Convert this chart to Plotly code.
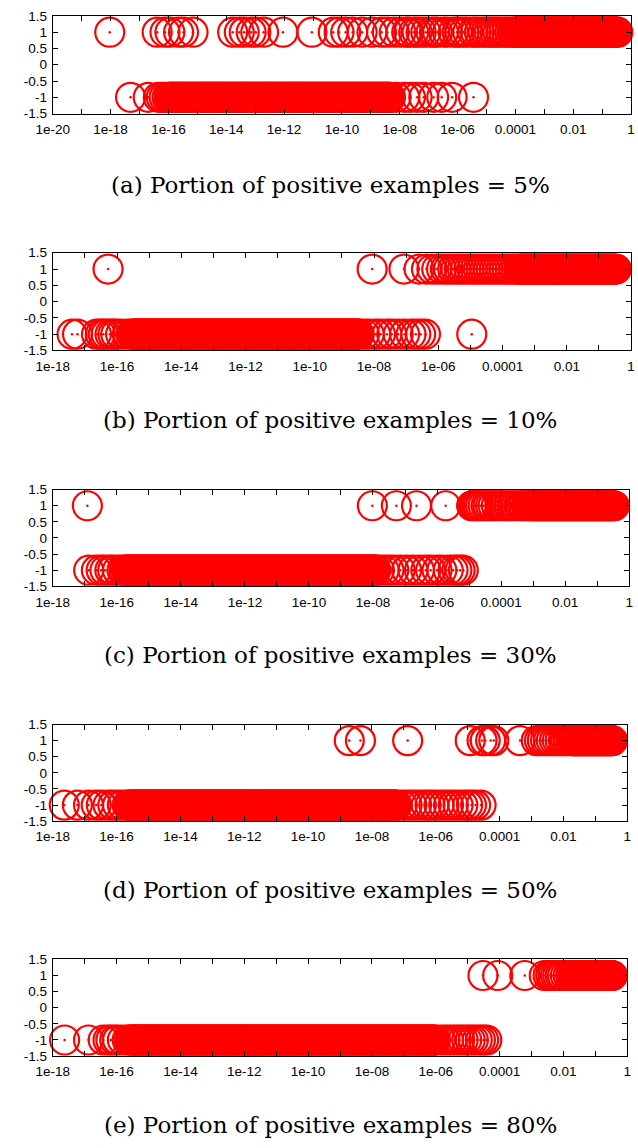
import numpy as np
import plotly.graph_objects as go

# ---------------- data (log10 of the x value; y = +1 / -1 class) ----------------
a_pos_log = [-18.03, -16.39, -16.12, -15.95, -15.65, -15.48, -15.15, -13.78, -13.55, -13.38, -13.14,
             -12.98, -12.71, -12.04, -11.04, -10.30, -10.10, -9.87, -9.63, -9.30, -8.96, -8.63, -8.43,
             -8.19, -7.96, -7.76, -7.69, -7.52, -7.40, -7.26, -7.10, -6.92, -6.80, -6.69, -6.49, -6.35,
             -6.15, -6.02, -5.92, -5.78, -5.65, -5.48, -5.38, -5.25, -5.12, -5.00, -4.90, -4.80, -4.70,
             -4.60, -4.50, -4.40, -4.30, -4.20, -4.10, -4.03,
             -3.98, -3.94, -3.91, -3.87, -3.84, -3.80, -3.77, -3.73, -3.70, -3.66, -3.63, -3.60, -3.56, -3.53, -3.49, -3.46, -3.42, -3.39, -3.35, -3.32, -3.29, -3.25, -3.22, -3.18, -3.15, -3.11, -3.08, -3.04, -3.01,
             -2.98, -2.94, -2.91, -2.87, -2.84, -2.80, -2.77, -2.73, -2.70, -2.66, -2.63, -2.60, -2.56, -2.53, -2.49, -2.46, -2.42, -2.39, -2.35, -2.32, -2.29, -2.25, -2.22, -2.18, -2.15, -2.11, -2.08, -2.04, -2.01,
             -1.98, -1.94, -1.91, -1.87, -1.84, -1.80, -1.77, -1.73, -1.70, -1.66, -1.63, -1.60, -1.56, -1.53, -1.49, -1.46, -1.42, -1.39, -1.35, -1.32, -1.29, -1.25, -1.22, -1.18, -1.15, -1.11, -1.08, -1.04, -1.01,
             -0.98, -0.94, -0.91, -0.87, -0.84, -0.80, -0.77, -0.73, -0.70, -0.66, -0.63, -0.60, -0.56, -0.53, -0.49, -0.46]
a_neg_log = [-17.31, -16.70, -16.35, -16.25, -16.15, -16.05,
             -15.98, -15.94, -15.91, -15.87, -15.84, -15.80, -15.77, -15.73, -15.70, -15.66, -15.63, -15.60, -15.56, -15.53, -15.49, -15.46, -15.42, -15.39, -15.35, -15.32, -15.29, -15.25, -15.22, -15.18, -15.15, -15.11, -15.08, -15.04, -15.01,
             -14.98, -14.94, -14.91, -14.87, -14.84, -14.80, -14.77, -14.73, -14.70, -14.66, -14.63, -14.60, -14.56, -14.53, -14.49, -14.46, -14.42, -14.39, -14.35, -14.32, -14.29, -14.25, -14.22, -14.18, -14.15, -14.11, -14.08, -14.04, -14.01,
             -13.98, -13.94, -13.91, -13.87, -13.84, -13.80, -13.77, -13.73, -13.70, -13.66, -13.63, -13.60, -13.56, -13.53, -13.49, -13.46, -13.42, -13.39, -13.35, -13.32, -13.29, -13.25, -13.22, -13.18, -13.15, -13.11, -13.08, -13.04, -13.01,
             -12.98, -12.94, -12.91, -12.87, -12.84, -12.80, -12.77, -12.73, -12.70, -12.66, -12.63, -12.60, -12.56, -12.53, -12.49, -12.46, -12.42, -12.39, -12.35, -12.32, -12.29, -12.25, -12.22, -12.18, -12.15, -12.11, -12.08, -12.04, -12.01,
             -11.98, -11.94, -11.91, -11.87, -11.84, -11.80, -11.77, -11.73, -11.70, -11.66, -11.63, -11.60, -11.56, -11.53, -11.49, -11.46, -11.42, -11.39, -11.35, -11.32, -11.29, -11.25, -11.22, -11.18, -11.15, -11.11, -11.08, -11.04, -11.01,
             -10.98, -10.94, -10.91, -10.87, -10.84, -10.80, -10.77, -10.73, -10.70, -10.66, -10.63, -10.60, -10.56, -10.53, -10.49, -10.46, -10.42, -10.39, -10.35, -10.32, -10.29, -10.25, -10.22, -10.18, -10.15, -10.11, -10.08, -10.04, -10.01,
             -9.98, -9.94, -9.91, -9.87, -9.84, -9.80, -9.77, -9.73, -9.70, -9.66, -9.63, -9.60, -9.56, -9.53, -9.49, -9.46, -9.42, -9.39, -9.35, -9.32, -9.29, -9.25, -9.22, -9.18, -9.15, -9.11, -9.08, -9.04, -9.01,
             -8.98, -8.94, -8.91, -8.87, -8.84, -8.80, -8.77, -8.73, -8.70, -8.66, -8.63, -8.60, -8.56, -8.53, -8.49, -8.46, -8.42, -8.39, -8.35, -8.32,
             -8.13, -7.83, -7.63, -7.40, -7.17, -6.83, -6.55, -6.19, -5.45]

b_pos_log = [-16.28, -8.06, -7.07, -6.60, -6.37, -6.20, -6.05, -5.90, -5.78, -5.68, -5.55, -5.45,
             -5.35, -5.25, -5.15, -5.05, -4.95, -4.85, -4.75, -4.65, -4.55, -4.45, -4.35, -4.25,
             -4.15, -4.05, -3.95, -3.85, -3.75, -3.65, -3.57,
             -3.49, -3.46, -3.42, -3.39, -3.35, -3.32, -3.29, -3.25, -3.22, -3.18, -3.15, -3.11, -3.08, -3.04, -3.01,
             -2.98, -2.94, -2.91, -2.87, -2.84, -2.80, -2.77, -2.73, -2.70, -2.66, -2.63, -2.60, -2.56, -2.53, -2.49, -2.46, -2.42, -2.39, -2.35, -2.32, -2.29, -2.25, -2.22, -2.18, -2.15, -2.11, -2.08, -2.04, -2.01,
             -1.98, -1.94, -1.91, -1.87, -1.84, -1.80, -1.77, -1.73, -1.70, -1.66, -1.63, -1.60, -1.56, -1.53, -1.49, -1.46, -1.42, -1.39, -1.35, -1.32, -1.29, -1.25, -1.22, -1.18, -1.15, -1.11, -1.08, -1.04, -1.01,
             -0.98, -0.94, -0.91, -0.87, -0.84, -0.80, -0.77, -0.73, -0.70, -0.66, -0.63, -0.60, -0.56, -0.53, -0.49, -0.46]
b_neg_log = [-17.40, -17.23, -16.64, -16.52, -16.43, -16.34, -16.22, -16.13, -16.04, -15.89, -15.68, -15.55,
             -15.49, -15.46, -15.42, -15.39, -15.35, -15.32, -15.29, -15.25, -15.22, -15.18, -15.15, -15.11, -15.08, -15.04, -15.01,
             -14.98, -14.94, -14.91, -14.87, -14.84, -14.80, -14.77, -14.73, -14.70, -14.66, -14.63, -14.60, -14.56, -14.53, -14.49, -14.46, -14.42, -14.39, -14.35, -14.32, -14.29, -14.25, -14.22, -14.18, -14.15, -14.11, -14.08, -14.04, -14.01,
             -13.98, -13.94, -13.91, -13.87, -13.84, -13.80, -13.77, -13.73, -13.70, -13.66, -13.63, -13.60, -13.56, -13.53, -13.49, -13.46, -13.42, -13.39, -13.35, -13.32, -13.29, -13.25, -13.22, -13.18, -13.15, -13.11, -13.08, -13.04, -13.01,
             -12.98, -12.94, -12.91, -12.87, -12.84, -12.80, -12.77, -12.73, -12.70, -12.66, -12.63, -12.60, -12.56, -12.53, -12.49, -12.46, -12.42, -12.39, -12.35, -12.32, -12.29, -12.25, -12.22, -12.18, -12.15, -12.11, -12.08, -12.04, -12.01,
             -11.98, -11.94, -11.91, -11.87, -11.84, -11.80, -11.77, -11.73, -11.70, -11.66, -11.63, -11.60, -11.56, -11.53, -11.49, -11.46, -11.42, -11.39, -11.35, -11.32, -11.29, -11.25, -11.22, -11.18, -11.15, -11.11, -11.08, -11.04, -11.01,
             -10.98, -10.94, -10.91, -10.87, -10.84, -10.80, -10.77, -10.73, -10.70, -10.66, -10.63, -10.60, -10.56, -10.53, -10.49, -10.46, -10.42, -10.39, -10.35, -10.32, -10.29, -10.25, -10.22, -10.18, -10.15, -10.11, -10.08, -10.04, -10.01,
             -9.98, -9.94, -9.91, -9.87, -9.84, -9.80, -9.77, -9.73, -9.70, -9.66, -9.63, -9.60, -9.56, -9.53, -9.49, -9.46, -9.42, -9.39, -9.35, -9.32, -9.29, -9.25, -9.22, -9.18, -9.15, -9.11, -9.08, -9.04, -9.01,
             -8.98, -8.94, -8.91, -8.87, -8.84, -8.80, -8.77, -8.73, -8.70, -8.66, -8.63, -8.60, -8.56, -8.53, -8.49, -8.46,
             -8.30, -8.15, -7.95, -7.80, -7.60, -7.45, -7.25, -7.05, -6.85, -6.70, -6.55, -6.40, -4.96]

c_pos_log = [-16.92, -8.02, -7.27, -6.64, -5.73,
             -4.92, -4.86, -4.81, -4.76, -4.71, -4.64, -4.56, -4.47, -4.41, -4.33, -4.25, -4.15, -4.04,
             -3.95, -3.86, -3.75, -3.65, -3.55, -3.44, -3.36, -3.29, -3.21, -3.14, -3.08, -3.04, -3.01,
             -2.98, -2.94, -2.91, -2.87, -2.84, -2.80, -2.77, -2.73, -2.70, -2.66, -2.63, -2.60, -2.56, -2.53, -2.49, -2.46, -2.42, -2.39, -2.35, -2.32, -2.29, -2.25, -2.22, -2.18, -2.15, -2.11, -2.08, -2.04, -2.01,
             -1.98, -1.94, -1.91, -1.87, -1.84, -1.80, -1.77, -1.73, -1.70, -1.66, -1.63, -1.60, -1.56, -1.53, -1.49, -1.46, -1.42, -1.39, -1.35, -1.32, -1.29, -1.25, -1.22, -1.18, -1.15, -1.11, -1.08, -1.04, -1.01,
             -0.98, -0.94, -0.91, -0.87, -0.84, -0.80, -0.77, -0.73, -0.70, -0.66, -0.63, -0.60, -0.56, -0.53, -0.49, -0.46]
c_neg_log = [-16.88, -16.64, -16.49, -16.37, -16.22, -16.13, -15.98, -15.84, -15.77,
             -15.70, -15.66, -15.63, -15.60, -15.56, -15.53, -15.49, -15.46, -15.42, -15.39, -15.35, -15.32, -15.29, -15.25, -15.22, -15.18, -15.15, -15.11, -15.08, -15.04, -15.01,
             -14.98, -14.94, -14.91, -14.87, -14.84, -14.80, -14.77, -14.73, -14.70, -14.66, -14.63, -14.60, -14.56, -14.53, -14.49, -14.46, -14.42, -14.39, -14.35, -14.32, -14.29, -14.25, -14.22, -14.18, -14.15, -14.11, -14.08, -14.04, -14.01,
             -13.98, -13.94, -13.91, -13.87, -13.84, -13.80, -13.77, -13.73, -13.70, -13.66, -13.63, -13.60, -13.56, -13.53, -13.49, -13.46, -13.42, -13.39, -13.35, -13.32, -13.29, -13.25, -13.22, -13.18, -13.15, -13.11, -13.08, -13.04, -13.01,
             -12.98, -12.94, -12.91, -12.87, -12.84, -12.80, -12.77, -12.73, -12.70, -12.66, -12.63, -12.60, -12.56, -12.53, -12.49, -12.46, -12.42, -12.39, -12.35, -12.32, -12.29, -12.25, -12.22, -12.18, -12.15, -12.11, -12.08, -12.04, -12.01,
             -11.98, -11.94, -11.91, -11.87, -11.84, -11.80, -11.77, -11.73, -11.70, -11.66, -11.63, -11.60, -11.56, -11.53, -11.49, -11.46, -11.42, -11.39, -11.35, -11.32, -11.29, -11.25, -11.22, -11.18, -11.15, -11.11, -11.08, -11.04, -11.01,
             -10.98, -10.94, -10.91, -10.87, -10.84, -10.80, -10.77, -10.73, -10.70, -10.66, -10.63, -10.60, -10.56, -10.53, -10.49, -10.46, -10.42, -10.39, -10.35, -10.32, -10.29, -10.25, -10.22, -10.18, -10.15, -10.11, -10.08, -10.04, -10.01,
             -9.98, -9.94, -9.91, -9.87, -9.84, -9.80, -9.77, -9.73, -9.70, -9.66, -9.63, -9.60, -9.56, -9.53, -9.49, -9.46, -9.42, -9.39, -9.35, -9.32, -9.29, -9.25, -9.22, -9.18, -9.15, -9.11, -9.08, -9.04, -9.01,
             -8.98, -8.94, -8.91, -8.87, -8.84, -8.80, -8.77, -8.73, -8.70, -8.66, -8.63, -8.60, -8.56, -8.53, -8.49, -8.46, -8.42, -8.39, -8.35, -8.32, -8.29, -8.25, -8.22, -8.18, -8.15, -8.11, -8.08, -8.04, -8.01,
             -7.98, -7.94, -7.91,
             -7.80, -7.65, -7.50, -7.35, -7.15, -6.95, -6.75, -6.55, -6.35, -6.20, -6.00, -5.85, -5.65,
             -5.50, -5.38, -5.28, -5.18]

d_pos_log = [-8.71, -8.36, -6.88, -4.92, -4.55, -4.45, -4.28, -4.18, -3.36,
             -2.85, -2.75, -2.66, -2.56, -2.47, -2.38, -2.28, -2.19, -2.10, -2.00, -1.92, -1.83, -1.74,
             -1.70, -1.66, -1.63, -1.60, -1.56, -1.53, -1.49, -1.46, -1.42, -1.39, -1.35, -1.32, -1.29, -1.25, -1.22, -1.18, -1.15, -1.11, -1.08, -1.04, -1.01,
             -0.98, -0.94, -0.91, -0.87, -0.84, -0.80, -0.77, -0.73, -0.70, -0.66, -0.63, -0.60, -0.56, -0.53, -0.49, -0.46]
d_neg_log = [-17.64, -17.23, -16.88, -16.64, -16.48, -16.27, -16.12, -15.97, -15.82, -15.67,
             -15.60, -15.56, -15.53, -15.49, -15.46, -15.42, -15.39, -15.35, -15.32, -15.29, -15.25, -15.22, -15.18, -15.15, -15.11, -15.08, -15.04, -15.01,
             -14.98, -14.94, -14.91, -14.87, -14.84, -14.80, -14.77, -14.73, -14.70, -14.66, -14.63, -14.60, -14.56, -14.53, -14.49, -14.46, -14.42, -14.39, -14.35, -14.32, -14.29, -14.25, -14.22, -14.18, -14.15, -14.11, -14.08, -14.04, -14.01,
             -13.98, -13.94, -13.91, -13.87, -13.84, -13.80, -13.77, -13.73, -13.70, -13.66, -13.63, -13.60, -13.56, -13.53, -13.49, -13.46, -13.42, -13.39, -13.35, -13.32, -13.29, -13.25, -13.22, -13.18, -13.15, -13.11, -13.08, -13.04, -13.01,
             -12.98, -12.94, -12.91, -12.87, -12.84, -12.80, -12.77, -12.73, -12.70, -12.66, -12.63, -12.60, -12.56, -12.53, -12.49, -12.46, -12.42, -12.39, -12.35, -12.32, -12.29, -12.25, -12.22, -12.18, -12.15, -12.11, -12.08, -12.04, -12.01,
             -11.98, -11.94, -11.91, -11.87, -11.84, -11.80, -11.77, -11.73, -11.70, -11.66, -11.63, -11.60, -11.56, -11.53, -11.49, -11.46, -11.42, -11.39, -11.35, -11.32, -11.29, -11.25, -11.22, -11.18, -11.15, -11.11, -11.08, -11.04, -11.01,
             -10.98, -10.94, -10.91, -10.87, -10.84, -10.80, -10.77, -10.73, -10.70, -10.66, -10.63, -10.60, -10.56, -10.53, -10.49, -10.46, -10.42, -10.39, -10.35, -10.32, -10.29, -10.25, -10.22, -10.18, -10.15, -10.11, -10.08, -10.04, -10.01,
             -9.98, -9.94, -9.91, -9.87, -9.84, -9.80, -9.77, -9.73, -9.70, -9.66, -9.63, -9.60, -9.56, -9.53, -9.49, -9.46, -9.42, -9.39, -9.35, -9.32, -9.29, -9.25, -9.22, -9.18, -9.15, -9.11, -9.08, -9.04, -9.01,
             -8.98, -8.94, -8.91, -8.87, -8.84, -8.80, -8.77, -8.73, -8.70, -8.66, -8.63, -8.60, -8.56, -8.53, -8.49, -8.46, -8.42, -8.39, -8.35, -8.32, -8.29, -8.25, -8.22, -8.18, -8.15, -8.11, -8.08, -8.04, -8.01,
             -7.98, -7.94, -7.91, -7.87, -7.84, -7.80, -7.77, -7.73, -7.70, -7.66, -7.63, -7.60, -7.56, -7.53, -7.49, -7.46, -7.42, -7.39, -7.35, -7.32, -7.29, -7.25, -7.22,
             -7.05, -6.90, -6.75, -6.60, -6.45, -6.30, -6.18, -6.06, -5.90, -5.75, -5.60, -5.45,
             -5.30, -5.15, -5.00, -4.88, -4.75, -4.58]

e_pos_log = [-4.52, -4.06, -3.21, -2.60, -2.48, -2.40, -2.33, -2.25, -2.18, -2.10, -2.03, -1.94,
             -1.85, -1.77, -1.70,
             -1.66, -1.63, -1.60, -1.56, -1.53, -1.49, -1.46, -1.42, -1.39, -1.35, -1.32, -1.29, -1.25, -1.22, -1.18, -1.15, -1.11, -1.08, -1.04, -1.01,
             -0.98, -0.94, -0.91, -0.87, -0.84, -0.80, -0.77, -0.73, -0.70, -0.66, -0.63, -0.60, -0.56, -0.53, -0.49, -0.46]
e_neg_log = [-17.63, -16.88, -16.42, -16.27, -16.18, -16.06, -15.97, -15.82, -15.67,
             -15.60, -15.56, -15.53, -15.49, -15.46, -15.42, -15.39, -15.35, -15.32, -15.29, -15.25, -15.22, -15.18, -15.15, -15.11, -15.08, -15.04, -15.01,
             -14.98, -14.94, -14.91, -14.87, -14.84, -14.80, -14.77, -14.73, -14.70, -14.66, -14.63, -14.60, -14.56, -14.53, -14.49, -14.46, -14.42, -14.39, -14.35, -14.32, -14.29, -14.25, -14.22, -14.18, -14.15, -14.11, -14.08, -14.04, -14.01,
             -13.98, -13.94, -13.91, -13.87, -13.84, -13.80, -13.77, -13.73, -13.70, -13.66, -13.63, -13.60, -13.56, -13.53, -13.49, -13.46, -13.42, -13.39, -13.35, -13.32, -13.29, -13.25, -13.22, -13.18, -13.15, -13.11, -13.08, -13.04, -13.01,
             -12.98, -12.94, -12.91, -12.87, -12.84, -12.80, -12.77, -12.73, -12.70, -12.66, -12.63, -12.60, -12.56, -12.53, -12.49, -12.46, -12.42, -12.39, -12.35, -12.32, -12.29, -12.25, -12.22, -12.18, -12.15, -12.11, -12.08, -12.04, -12.01,
             -11.98, -11.94, -11.91, -11.87, -11.84, -11.80, -11.77, -11.73, -11.70, -11.66, -11.63, -11.60, -11.56, -11.53, -11.49, -11.46, -11.42, -11.39, -11.35, -11.32, -11.29, -11.25, -11.22, -11.18, -11.15, -11.11, -11.08, -11.04, -11.01,
             -10.98, -10.94, -10.91, -10.87, -10.84, -10.80, -10.77, -10.73, -10.70, -10.66, -10.63, -10.60, -10.56, -10.53, -10.49, -10.46, -10.42, -10.39, -10.35, -10.32, -10.29, -10.25, -10.22, -10.18, -10.15, -10.11, -10.08, -10.04, -10.01,
             -9.98, -9.94, -9.91, -9.87, -9.84, -9.80, -9.77, -9.73, -9.70, -9.66, -9.63, -9.60, -9.56, -9.53, -9.49, -9.46, -9.42, -9.39, -9.35, -9.32, -9.29, -9.25, -9.22, -9.18, -9.15, -9.11, -9.08, -9.04, -9.01,
             -8.98, -8.94, -8.91, -8.87, -8.84, -8.80, -8.77, -8.73, -8.70, -8.66, -8.63, -8.60, -8.56, -8.53, -8.49, -8.46, -8.42, -8.39, -8.35, -8.32, -8.29, -8.25, -8.22, -8.18, -8.15, -8.11, -8.08, -8.04, -8.01,
             -7.98, -7.94, -7.91, -7.87, -7.84, -7.80, -7.77, -7.73, -7.70, -7.66, -7.63, -7.60, -7.56, -7.53, -7.49, -7.46, -7.42, -7.39, -7.35, -7.32, -7.29, -7.25, -7.22, -7.18, -7.15, -7.11, -7.08, -7.04, -7.01,
             -6.98, -6.94, -6.91, -6.87, -6.84, -6.80, -6.77, -6.73, -6.70, -6.66, -6.63, -6.60, -6.56, -6.53, -6.49, -6.46, -6.42, -6.39, -6.35, -6.32, -6.29, -6.25, -6.22, -6.18, -6.15, -6.11, -6.08, -6.04, -6.01,
             -5.85, -5.72, -5.60, -5.48, -5.36, -5.25, -5.14, -5.03, -4.92, -4.82, -4.70, -4.60, -4.50, -4.40]

x_labels_a = ["1e-20", "1e-18", "1e-16", "1e-14", "1e-12", "1e-10", "1e-08", "1e-06", "0.0001", "0.01", "1"]
x_labels = ["1e-18", "1e-16", "1e-14", "1e-12", "1e-10", "1e-08", "1e-06", "0.0001", "0.01", "1"]
y_tick_values = [-1.5, -1, -0.5, 0, 0.5, 1, 1.5]
y_tick_labels = ["-1.5", "-1", "-0.5", "0", "0.5", "1", "1.5"]
captions = ["(a) Portion of positive examples = 5%",
            "(b) Portion of positive examples = 10%",
            "(c) Portion of positive examples = 30%",
            "(d) Portion of positive examples = 50%",
            "(e) Portion of positive examples = 80%"]

# ---------------- layout (pixels) ----------------
W, H = 638, 1148
panels = [
    (a_pos_log, a_neg_log, -20, x_labels_a, (37, 635, 9, 108), 180),
    (b_pos_log, b_neg_log, -18, x_labels, (37, 635, 249, 348), 418),
    (c_pos_log, c_neg_log, -18, x_labels, (37, 633, 489, 587), 657),
    (d_pos_log, d_neg_log, -18, x_labels, (37, 631, 727, 825), 895),
    (e_pos_log, e_neg_log, -18, x_labels, (37, 631, 965, 1063), 1133),
]

RED = "#ff0000"
AXFONT = dict(family="Liberation Sans, Arial, sans-serif", size=13.5, color="black")

fig = go.Figure()
annotations = []
for i, (pos, neg, lo, labels, box, cap_y) in enumerate(panels, start=1):
    xs = np.power(10.0, np.array(pos + neg, dtype=float))
    ys = [1] * len(pos) + [-1] * len(neg)
    xa = "x" if i == 1 else f"x{i}"
    ya = "y" if i == 1 else f"y{i}"
    fig.add_trace(go.Scatter(
        x=xs, y=ys, mode="markers", xaxis=xa, yaxis=ya, cliponaxis=False,
        marker=dict(symbol="circle-open", size=29, color=RED, line=dict(width=2.2, color=RED)),
        showlegend=False, hoverinfo="skip"))
    fig.add_trace(go.Scatter(
        x=xs, y=ys, mode="markers", xaxis=xa, yaxis=ya, cliponaxis=False,
        marker=dict(symbol="circle", size=2.5, color=RED, line=dict(width=0)),
        showlegend=False, hoverinfo="skip"))

    x0, x1, y0, y1 = box
    decades = list(range(lo, 1))
    ticktext = [labels[(k - lo) // 2] if (k - lo) % 2 == 0 else "" for k in decades]
    xkey = "xaxis" if i == 1 else f"xaxis{i}"
    ykey = "yaxis" if i == 1 else f"yaxis{i}"
    fig.update_layout(**{
        xkey: dict(type="log", range=[lo, 0], domain=[x0 / W, x1 / W], anchor=ya,
                   tickmode="array", tickvals=[10.0 ** k for k in decades], ticktext=ticktext,
                   ticks="inside", ticklen=5, tickwidth=1, tickcolor="black", ticklabelstandoff=3,
                   showline=True, linecolor="black", linewidth=1, mirror="ticks",
                   showgrid=False, zeroline=False, tickfont=AXFONT, fixedrange=True),
        ykey: dict(range=[-1.5, 1.5], domain=[1 - y1 / H, 1 - y0 / H], anchor=xa,
                   tickmode="array", tickvals=y_tick_values, ticktext=y_tick_labels,
                   ticks="inside", ticklen=5, tickwidth=1, tickcolor="black", ticklabelstandoff=2,
                   showline=True, linecolor="black", linewidth=1, mirror="ticks",
                   showgrid=False, zeroline=False, tickfont=AXFONT, fixedrange=True),
    })
    annotations.append(dict(
        text=captions[i - 1], xref="paper", yref="paper", x=324 / W, y=1 - cap_y / H,
        xanchor="center", yanchor="middle", showarrow=False,
        font=dict(family="DejaVu Serif, serif", size=23, color="black")))

fig.update_layout(width=W, height=H, margin=dict(l=0, r=0, t=0, b=0),
                  paper_bgcolor="white", plot_bgcolor="white", annotations=annotations)

fig.write_html("out.html")
